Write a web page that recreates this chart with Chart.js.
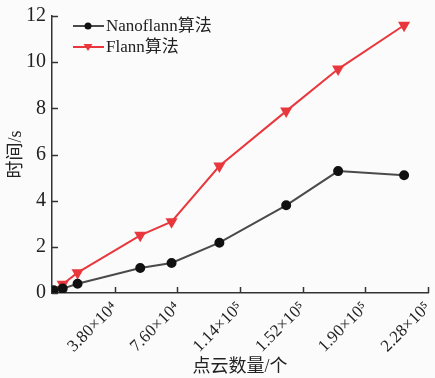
<!DOCTYPE html>
<html>
<head>
<meta charset="utf-8">
<script src="https://cdn.jsdelivr.net/npm/chart.js@4.4.0/dist/chart.umd.min.js"></script>
<style>
    html, body { margin: 0; padding: 0; background: #fbfbfb; }
    #wrap { width: 435px; height: 378px; }
</style>
</head>
<body>
<div id="wrap"><canvas id="chart"></canvas></div>
<script>
// point cloud sizes (x) and run time in seconds (y)
var pointCounts = [1000, 6500, 15500, 53500, 72500, 101500, 142000, 173500, 213500];
var nanoflannTimes = [0.12, 0.19, 0.4, 1.08, 1.3, 2.18, 3.8, 5.28, 5.1];
var flannTimes = [0.15, 0.38, 0.88, 2.5, 3.09, 5.5, 7.88, 9.7, 11.6];
var xTickValues = [38000, 76000, 114000, 152000, 190000, 228000];
var xTickLabels = ["3.80×10⁴", "7.60×10⁴", "1.14×10⁵", "1.52×10⁵", "1.90×10⁵", "2.28×10⁵"];
var seriesNames = ["Nanoflann算法", "Flann算法"];

var serif = "'Liberation Serif', 'Noto Sans CJK SC', serif";

function toPoints(xs, ys) {
    var out = [];
    for (var i = 0; i < xs.length; i++) {
        out.push({ x: xs[i], y: ys[i] });
    }
    return out;
}

// small ticks pointing into the plot, plus a legend inside the plot
var innerTicks = {
    id: 'innerTicks',
    afterDraw: function (chart) {
        var ctx = chart.ctx;
        var xs = chart.scales.x, ys = chart.scales.y;
        var area = chart.chartArea;
        ctx.save();
        ctx.strokeStyle = '#333';
        ctx.lineWidth = 1.5;
        xTickValues.forEach(function (v) {
            var px = Math.round(xs.getPixelForValue(v)) + 0.5;
            ctx.beginPath();
            ctx.moveTo(px, area.bottom);
            ctx.lineTo(px, area.bottom - 6);
            ctx.stroke();
        });
        ys.ticks.forEach(function (t) {
            var py = Math.round(ys.getPixelForValue(t.value)) + 0.5;
            ctx.beginPath();
            ctx.moveTo(area.left, py);
            ctx.lineTo(area.left + 6, py);
            ctx.stroke();
        });

        // legend
        ctx.font = "17px " + serif;
        ctx.textBaseline = 'middle';
        chart.data.datasets.forEach(function (ds, i) {
            var ly = 26 + i * 21;
            ctx.strokeStyle = ds.borderColor;
            ctx.lineWidth = 2;
            ctx.beginPath();
            ctx.moveTo(73, ly);
            ctx.lineTo(104, ly);
            ctx.stroke();
            ctx.fillStyle = ds.pointBackgroundColor;
            ctx.beginPath();
            if (ds.pointStyle === 'triangle') {
                ctx.moveTo(83.5, ly - 3);
                ctx.lineTo(92.5, ly - 3);
                ctx.lineTo(88, ly + 4);
                ctx.closePath();
            } else {
                ctx.arc(88, ly, 3.5, 0, Math.PI * 2);
            }
            ctx.fill();
            ctx.fillStyle = '#222';
            ctx.fillText(ds.label, 106, ly + 1);
        });
        ctx.restore();
    }
};

var ctx = document.getElementById("chart").getContext("2d");
var chart = new Chart(ctx, {
    type: 'line',
    data: {
        datasets: [{
            label: seriesNames[0],
            data: toPoints(pointCounts, nanoflannTimes),
            borderColor: '#4a4a4a',
            borderWidth: 2,
            pointBackgroundColor: '#111',
            pointBorderColor: '#111',
            pointStyle: 'circle',
            pointRadius: 4
        }, {
            label: seriesNames[1],
            data: toPoints(pointCounts, flannTimes),
            borderColor: '#e8383d',
            borderWidth: 2,
            pointBackgroundColor: '#e8383d',
            pointBorderColor: '#e8383d',
            pointStyle: 'triangle',
            pointRotation: 180,
            pointRadius: 5
        }]
    },
    options: {
        responsive: true,
        maintainAspectRatio: false,
        animation: false,
        layout: { padding: { top: 16, right: 1, left: 0, bottom: 0 } },
        plugins: {
            legend: { display: false },
            tooltip: { enabled: false }
        },
        scales: {
            x: {
                type: 'linear',
                min: 0,
                max: 228000,
                afterBuildTicks: function (scale) {
                    scale.ticks = xTickValues.map(function (v) { return { value: v }; });
                },
                afterFit: function (scale) {
                    scale.height = 85;
                    scale.paddingLeft = 0;
                    scale.paddingRight = 0;
                },
                grid: { display: false, drawTicks: false },
                border: { display: true, color: '#333', width: 1.5 },
                ticks: {
                    autoSkip: false,
                    minRotation: 45,
                    maxRotation: 45,
                    padding: 5,
                    color: '#222',
                    font: { family: serif, size: 17 },
                    callback: function (v) {
                        var i = xTickValues.indexOf(v);
                        return i >= 0 ? xTickLabels[i] : '';
                    }
                },
                title: {
                    display: true,
                    text: '点云数量/个',
                    color: '#222',
                    font: { family: serif, size: 18 },
                    padding: { top: 0, bottom: 0 }
                }
            },
            y: {
                min: 0,
                max: 12,
                afterFit: function (scale) {
                    scale.width = 52;
                    scale.paddingTop = 0;
                    scale.paddingBottom = 0;
                },
                grid: { display: false, drawTicks: false },
                border: { display: true, color: '#333', width: 1.5 },
                ticks: {
                    stepSize: 2,
                    padding: 6,
                    color: '#222',
                    font: { family: serif, size: 20 }
                },
                title: {
                    display: true,
                    text: '时间/s',
                    color: '#222',
                    font: { family: serif, size: 18 },
                    padding: { top: 5, bottom: 0 }
                }
            }
        }
    },
    plugins: [innerTicks]
});
</script>
</body>
</html>
